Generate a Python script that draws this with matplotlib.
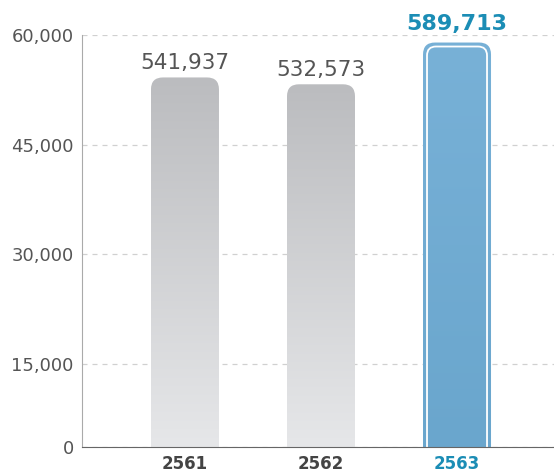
import numpy as np
import matplotlib.pyplot as plt
from matplotlib.patches import FancyBboxPatch
from matplotlib.colors import LinearSegmentedColormap

# données
years = ['2561', '2562', '2563']
values = [541937, 532573, 589713]
heights = [v / 10 for v in values]   # la hauteur des barres suit l'axe 0-60,000
yticks = [15000, 30000, 45000, 60000]

gray_txt = '#555555'
blue_txt = '#1b8db5'

plt.rcParams['font.family'] = ['DejaVu Sans']

fig = plt.figure(figsize=(5.54, 4.74), dpi=100)
ax = fig.add_axes([82/554, 27/474, 472/554, 412/474])

x = np.arange(len(years))
w = 0.5
ybot = 3640   # l'axe des x coupe les barres au-dessus du vrai zéro
ax.set_xlim(-0.757, 2.713)
ax.set_ylim(ybot, 60000)

# taille d'un pixel en unités de données
px_x = 3.47 / 472
px_y = (60000 - ybot) / 412
asp = px_y / px_x

gray_cmap = LinearSegmentedColormap.from_list('g', ['#e6e7e9', '#bbbcbf'])
blue_cmap = LinearSegmentedColormap.from_list('b', ['#6aa6cd', '#78b1d7'])

for i in range(len(years)):
    x0 = x[i] - w / 2
    h = heights[i]
    r = 12 * px_x
    patch = FancyBboxPatch((x0, -8000), w, h + 8000,
                           boxstyle='round,pad=0,rounding_size=%f' % r,
                           mutation_aspect=asp, facecolor='none',
                           edgecolor='none', zorder=2)
    ax.add_patch(patch)
    grad = np.linspace(0, 1, 256).reshape(-1, 1)
    cmap = blue_cmap if i == 2 else gray_cmap
    im = ax.imshow(grad, extent=[x0, x0 + w, ybot, h], origin='lower',
                   cmap=cmap, aspect='auto', zorder=2)
    im.set_clip_path(patch)

    if i == 2:
        ins = 4
        inner = FancyBboxPatch((x0 + ins * px_x, -8000), w - 2 * ins * px_x,
                               h + 8000 - ins * px_y,
                               boxstyle='round,pad=0,rounding_size=%f' % (9 * px_x),
                               mutation_aspect=asp, facecolor='none',
                               edgecolor='white', lw=1.3, zorder=3)
        ax.add_patch(inner)
        inner.set_clip_path(ax.patch)
        ax.text(x[i], h + 13 * px_y, format(values[i], ','), ha='center',
                va='baseline', fontsize=16, fontweight='bold', color=blue_txt)
    else:
        ax.text(x[i], h + 8 * px_y, format(values[i], ','), ha='center',
                va='baseline', fontsize=15.5, color=gray_txt)

ax.set_xticks(x)
ax.set_xticklabels(years, fontsize=12, fontweight='bold', color='#444444')
ax.get_xticklabels()[2].set_color(blue_txt)
ax.set_yticks([ybot] + yticks)
ax.set_yticklabels(['0'] + [format(t, ',') for t in yticks], fontsize=13,
                   color=gray_txt)
ax.tick_params(length=0, pad=6)
ax.tick_params(axis='x', pad=6)

ax.grid(axis='y', color='#d0d0d0', linestyle=(0, (4, 4)), lw=0.9)
ax.set_axisbelow(True)
for s in ['top', 'right']:
    ax.spines[s].set_visible(False)
ax.spines['left'].set_color('#aaaaaa')
ax.spines['bottom'].set_color('#666666')
ax.spines['bottom'].set_zorder(4)

fig.savefig('out.png', dpi=100)
